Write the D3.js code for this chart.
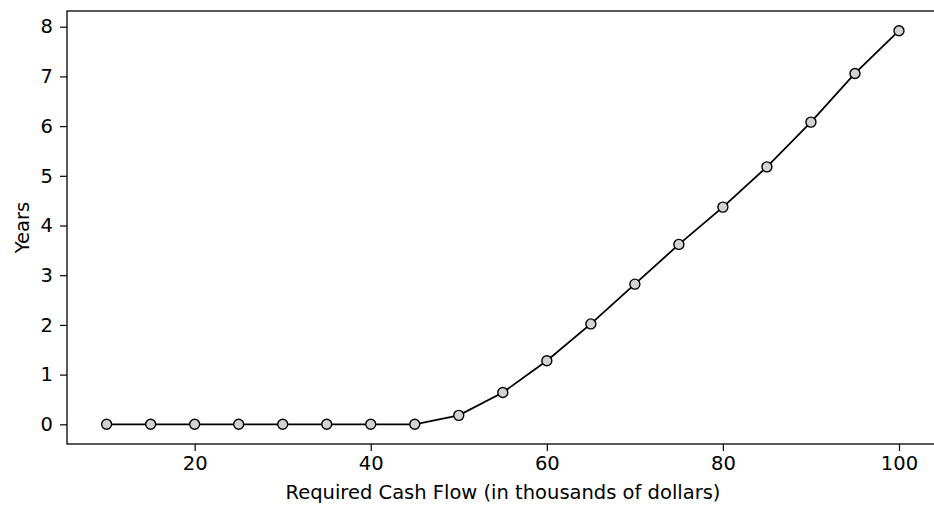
<!DOCTYPE html>
<html>
<head>
<meta charset="utf-8">
<script src="https://cdn.jsdelivr.net/npm/d3@7"></script>
<style>
  html, body { margin: 0; padding: 0; background: #fff; }
  text { font-family: "DejaVu Sans", sans-serif; }
</style>
</head>
<body>
<div id="chart"></div>
<script>
// Required cash flow vs years
const cashFlow = [10, 15, 20, 25, 30, 35, 40, 45, 50, 55, 60, 65, 70, 75, 80, 85, 90, 95, 100];
const years = [0, 0, 0, 0, 0, 0, 0, 0, 0.18, 0.64, 1.28, 2.02, 2.82, 3.62, 4.37, 5.18, 6.08, 7.06, 7.92];
const xTicks = [20, 40, 60, 80, 100];
const yTicks = [0, 1, 2, 3, 4, 5, 6, 7, 8];

const W = 934, H = 507;
const m = { left: 67, top: 11, right: 938.6, bottom: 444 };
const FS = 19.5;

const svg = d3.select("#chart").append("svg").attr("width", W).attr("height", H);

const x = d3.scaleLinear().domain([5.5, 104.5]).range([m.left, m.right]);
const y = d3.scaleLinear().domain([-0.396, 8.316]).range([m.bottom, m.top]);

const xAxis = svg.append("g").attr("transform", `translate(0,${m.bottom})`)
    .call(d3.axisBottom(x).tickValues(xTicks).tickSize(7).tickPadding(5).tickFormat(d3.format("d")));
const yAxis = svg.append("g").attr("transform", `translate(${m.left},0)`)
    .call(d3.axisLeft(y).tickValues(yTicks).tickSize(7).tickPadding(7).tickFormat(d3.format("d")));
[xAxis, yAxis].forEach(a => {
    a.select(".domain").remove();
    a.selectAll("line").attr("stroke", "#000").attr("stroke-width", 1.2);
    a.selectAll("text").attr("font-size", FS).attr("fill", "#000").attr("font-family", "DejaVu Sans, sans-serif");
});

// frame
svg.append("rect").attr("x", m.left).attr("y", m.top)
    .attr("width", m.right - m.left).attr("height", m.bottom - m.top)
    .attr("fill", "none").attr("stroke", "#000").attr("stroke-width", 1.3);

const pts = cashFlow.map((c, i) => ({ c, v: years[i] }));
svg.append("path").datum(pts)
    .attr("fill", "none").attr("stroke", "#000").attr("stroke-width", 1.8)
    .attr("d", d3.line().x(d => x(d.c)).y(d => y(d.v)));

svg.append("g").selectAll("circle").data(pts).join("circle")
    .attr("cx", d => x(d.c)).attr("cy", d => y(d.v)).attr("r", 5)
    .attr("fill", "#d3d3d3").attr("stroke", "#000").attr("stroke-width", 1.4);

svg.append("text").attr("x", 503).attr("y", 499)
    .attr("text-anchor", "middle").attr("font-size", FS).text("Required Cash Flow (in thousands of dollars)");
svg.append("text").attr("transform", `translate(29,${(m.top + m.bottom) / 2}) rotate(-90)`)
    .attr("text-anchor", "middle").attr("font-size", FS).text("Years");
</script>
</body>
</html>
